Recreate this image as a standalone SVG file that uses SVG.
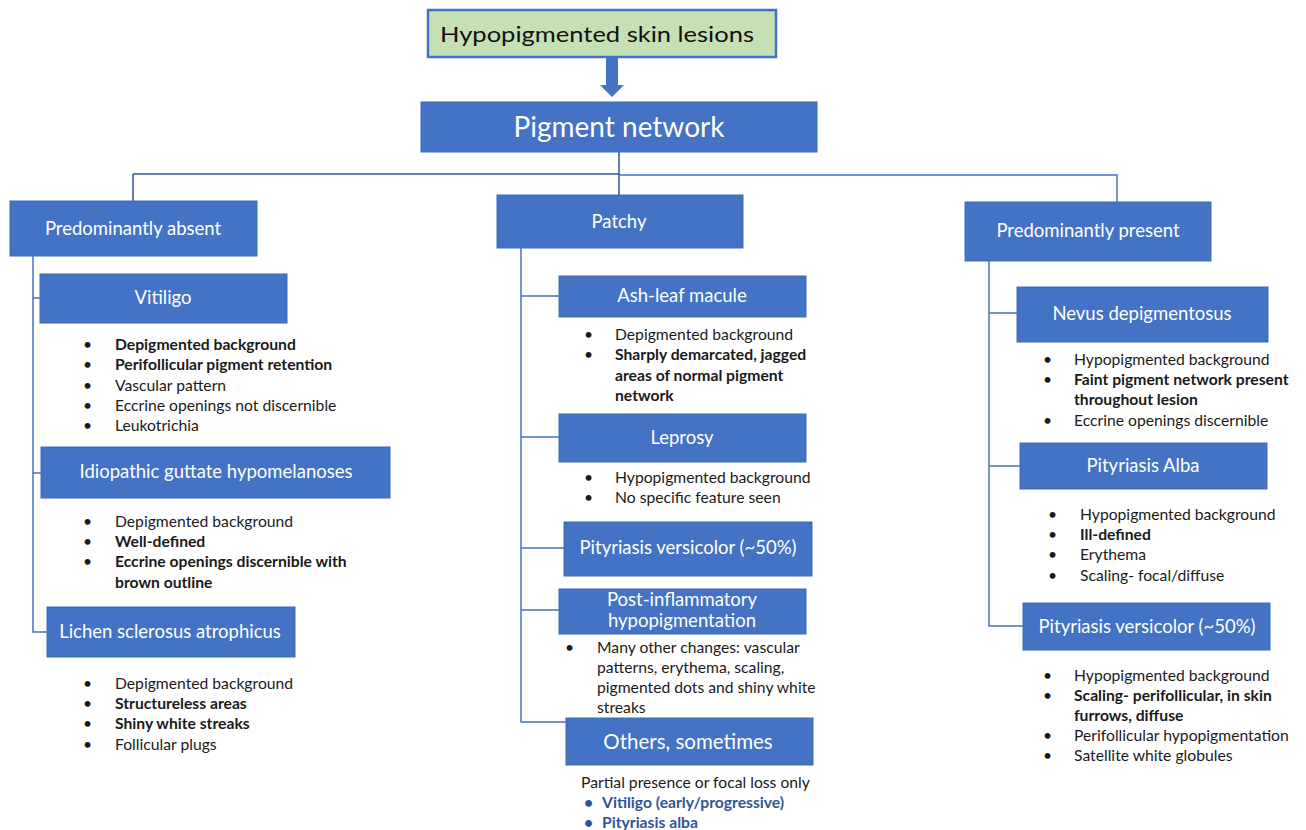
<svg xmlns="http://www.w3.org/2000/svg" width="1306" height="830" viewBox="0 0 1306 830">
<style>
.box{fill:#4472c4;stroke:#3f6cb8;stroke-width:1}
.bt{fill:#fff;font-family:Lato,'Liberation Sans',sans-serif;text-anchor:middle;dominant-baseline:central}
.tx{fill:#1a1a1a;font-family:Lato,'Liberation Sans',sans-serif;font-size:15.7px;dominant-baseline:central}
.b{font-weight:bold}
.bl{fill:#2f5597;font-weight:bold}
.ln{stroke:#4472c4;stroke-width:1.5;fill:none}
.ln2{stroke:#2f5597;stroke-width:1.5;fill:none}
</style>
<rect width="1306" height="830" fill="#fff"/>
<g id="connectors">
<polygon points="606,58 618,58 618,85 624,85 612,97 600,85 606,85" fill="#4472c4"/>
<path class="ln2" d="M619,152 V195 M133,174 H619 M133,174 V201"/>
<path class="ln" d="M619,175 H1117 V202"/>
<path class="ln" d="M33,256 V632 H47 M33,298 H40 M33,473 H41"/>
<path class="ln" d="M521,248 V722 H566 M521,296 H559 M521,437 H559 M521,548 H564 M521,610 H559"/>
<path class="ln" d="M989,261 V626 H1023 M989,313 H1017 M989,466 H1020"/>
</g>
<g id="top">
<rect x="428" y="10" width="348" height="47" fill="#c5e0b4" stroke="#4472c4" stroke-width="2.5"/>
<text x="440" y="33" font-family="Lato,'Liberation Sans',sans-serif" font-size="22" fill="#111" dominant-baseline="central" textLength="314" lengthAdjust="spacingAndGlyphs">Hypopigmented skin lesions</text>
</g>
<g id="pigment-network">
<rect class="box" x="421" y="102" width="396" height="50"/>
<text class="bt" x="619" y="126" font-size="28">Pigment network</text>
</g>
<g id="absent">
<rect class="box" x="10" y="201" width="247" height="55"/>
<text class="bt" x="133" y="228" font-size="18.5">Predominantly absent</text>
</g>
<g id="patchy">
<rect class="box" x="497" y="195" width="246" height="53"/>
<text class="bt" x="619" y="221" font-size="18.5">Patchy</text>
</g>
<g id="present">
<rect class="box" x="965" y="202" width="246" height="59"/>
<text class="bt" x="1088" y="230" font-size="18.5">Predominantly present</text>
</g>
<g id="vitiligo">
<rect class="box" x="40" y="274" width="247" height="49"/>
<text class="bt" x="163" y="297" font-size="18.5">Vitiligo</text>
<g class="tx">
<text x="83" y="344">•</text><text x="115" y="344" class="b">Depigmented background</text>
<text x="83" y="364">•</text><text x="115" y="364" class="b">Perifollicular pigment retention</text>
<text x="83" y="385">•</text><text x="115" y="385">Vascular pattern</text>
<text x="83" y="405">•</text><text x="115" y="405">Eccrine openings not discernible</text>
<text x="83" y="425">•</text><text x="115" y="425">Leukotrichia</text>
</g>
</g>
<g id="igh">
<rect class="box" x="41" y="447" width="349" height="51"/>
<text class="bt" x="216" y="471" font-size="18.5">Idiopathic guttate hypomelanoses</text>
<g class="tx">
<text x="83" y="521">•</text><text x="115" y="521">Depigmented background</text>
<text x="83" y="541">•</text><text x="115" y="541" class="b">Well-defined</text>
<text x="83" y="561">•</text><text x="115" y="561" class="b">Eccrine openings discernible with</text>
<text x="115" y="582" class="b">brown outline</text>
</g>
</g>
<g id="lichen">
<rect class="box" x="47" y="607" width="248" height="50"/>
<text class="bt" x="170" y="631" font-size="18.5">Lichen sclerosus atrophicus</text>
<g class="tx">
<text x="83" y="683">•</text><text x="115" y="683">Depigmented background</text>
<text x="83" y="703">•</text><text x="115" y="703" class="b">Structureless areas</text>
<text x="83" y="723">•</text><text x="115" y="723" class="b">Shiny white streaks</text>
<text x="83" y="744">•</text><text x="115" y="744">Follicular plugs</text>
</g>
</g>
<g id="ash-leaf">
<rect class="box" x="559" y="276" width="247" height="41"/>
<text class="bt" x="682" y="295" font-size="18.5">Ash-leaf macule</text>
<g class="tx">
<text x="584" y="334">•</text><text x="615" y="334">Depigmented background</text>
<text x="584" y="354">•</text><text x="615" y="354" class="b">Sharply demarcated, jagged</text>
<text x="615" y="375" class="b">areas of normal pigment</text>
<text x="615" y="395" class="b">network</text>
</g>
</g>
<g id="leprosy">
<rect class="box" x="559" y="414" width="247" height="48"/>
<text class="bt" x="682" y="437" font-size="18.5">Leprosy</text>
<g class="tx">
<text x="584" y="477">•</text><text x="615" y="477">Hypopigmented background</text>
<text x="584" y="497">•</text><text x="615" y="497">No specific feature seen</text>
</g>
</g>
<g id="pv-mid">
<rect class="box" x="564" y="522" width="248" height="54"/>
<text class="bt" x="688" y="547" font-size="18.5">Pityriasis versicolor  (~50%)</text>
</g>
<g id="pih">
<rect class="box" x="559" y="589" width="247" height="45"/>
<text class="bt" x="682" y="599" font-size="18.5">Post-inflammatory</text>
<text class="bt" x="682" y="620" font-size="18.5">hypopigmentation</text>
<g class="tx">
<text x="565" y="647">•</text><text x="597" y="647">Many other changes: vascular</text>
<text x="597" y="667">patterns, erythema, scaling,</text>
<text x="597" y="687">pigmented dots and shiny white</text>
<text x="597" y="707">streaks</text>
</g>
</g>
<g id="others">
<rect class="box" x="566" y="718" width="247" height="47"/>
<text class="bt" x="688" y="741" font-size="20.5">Others, sometimes</text>
<g class="tx">
<text x="581" y="782">Partial presence or focal loss only</text>
<text x="584" y="802" class="bl">•</text><text x="602" y="802" class="bl">Vitiligo (early/progressive)</text>
<text x="584" y="822" class="bl">•</text><text x="602" y="822" class="bl">Pityriasis alba</text>
</g>
</g>
<g id="nevus">
<rect class="box" x="1017" y="287" width="251" height="55"/>
<text class="bt" x="1142" y="313" font-size="18.5">Nevus depigmentosus</text>
<g class="tx">
<text x="1043" y="359">•</text><text x="1074" y="359">Hypopigmented background</text>
<text x="1043" y="379">•</text><text x="1074" y="379" class="b">Faint pigment network present</text>
<text x="1074" y="399" class="b">throughout lesion</text>
<text x="1043" y="420">•</text><text x="1074" y="420">Eccrine openings discernible</text>
</g>
</g>
<g id="alba">
<rect class="box" x="1020" y="443" width="247" height="46"/>
<text class="bt" x="1143" y="465" font-size="18.5">Pityriasis Alba</text>
<g class="tx">
<text x="1048" y="514">•</text><text x="1080" y="514">Hypopigmented background</text>
<text x="1048" y="534">•</text><text x="1080" y="534" class="b">Ill-defined</text>
<text x="1048" y="554">•</text><text x="1080" y="554">Erythema</text>
<text x="1048" y="575">•</text><text x="1080" y="575">Scaling- focal/diffuse</text>
</g>
</g>
<g id="pv-right">
<rect class="box" x="1023" y="603" width="247" height="47"/>
<text class="bt" x="1147" y="626" font-size="18.5">Pityriasis versicolor  (~50%)</text>
<g class="tx">
<text x="1043" y="675">•</text><text x="1074" y="675">Hypopigmented background</text>
<text x="1043" y="695">•</text><text x="1074" y="695" class="b">Scaling- perifollicular, in skin</text>
<text x="1074" y="715" class="b">furrows, diffuse</text>
<text x="1043" y="735">•</text><text x="1074" y="735">Perifollicular hypopigmentation</text>
<text x="1043" y="755">•</text><text x="1074" y="755">Satellite white globules</text>
</g>
</g>
</svg>
